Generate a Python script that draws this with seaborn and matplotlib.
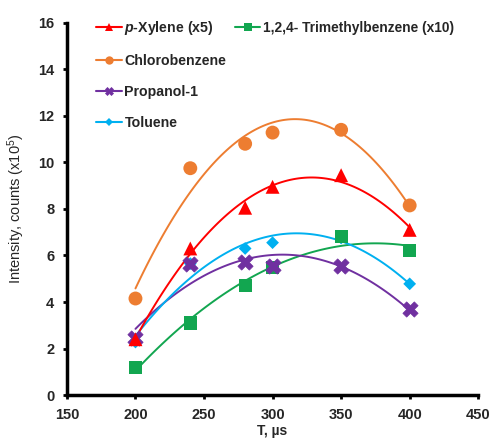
import numpy as np
import pandas as pd
import matplotlib
matplotlib.use("Agg")
import matplotlib.pyplot as plt
import seaborn as sns
from matplotlib.lines import Line2D

sns.set_theme(style="ticks")
plt.rcParams['font.family'] = ['Liberation Sans', 'DejaVu Sans']
plt.rcParams['mathtext.fontset'] = 'custom'
plt.rcParams['mathtext.it'] = 'Liberation Sans:italic:bold'
plt.rcParams['mathtext.rm'] = 'Liberation Sans'

T = [200, 240, 280, 300, 350, 400]
p_xylene = [2.4, 6.3, 8.05, 8.95, 9.45, 7.1]
trimethylbenzene = [1.2, 3.1, 4.72, 5.5, 6.82, 6.22]
chlorobenzene = [4.15, 9.75, 10.8, 11.28, 11.4, 8.15]
propanol = [2.45, 5.64, 5.73, 5.55, 5.55, 3.72]
toluene = [2.28, 5.65, 6.3, 6.55, 6.75, 4.78]

series = [
    ("$p$-Xylene (x5)", p_xylene, "#FF0000", "^", 10),
    ("1,2,4- Trimethylbenzene (x10)", trimethylbenzene, "#12A650", "s", 9.5),
    ("Chlorobenzene", chlorobenzene, "#ED7D31", "o", 10),
    ("Propanol-1", propanol, "#7030A0", "X", 11),
    ("Toluene", toluene, "#00B0F0", "D", 6.5),
]
line_order = [1, 3, 4, 0, 2]
marker_order = [4, 1, 3, 0, 2]

fig = plt.figure(figsize=(4.92, 4.38), dpi=100)
ax = fig.add_axes([0.136, 0.098, 0.836, 0.85])

for i in line_order:
    name, vals, color, marker, ms = series[i]
    df = pd.DataFrame({"T": T, "v": vals})
    sns.regplot(data=df, x="T", y="v", order=2, ci=None, scatter=False,
                truncate=True, ax=ax, line_kws=dict(color=color, lw=1.4))
for i in marker_order:
    name, vals, color, marker, ms = series[i]
    df = pd.DataFrame({"T": T, "v": vals})
    sns.scatterplot(data=df, x="T", y="v", marker=marker, s=ms**2, color=color,
                    edgecolor="none" if marker != "X" else color, linewidth=0 if marker != "X" else 0.5,
                    ax=ax, zorder=3)

ax.set_xlim(150, 450)
ax.set_ylim(0, 16)
ax.set_xticks(np.arange(150, 451, 50))
ax.set_yticks(np.arange(0, 17, 2))
for lab in ax.get_xticklabels() + ax.get_yticklabels():
    lab.set_fontweight("bold")
    lab.set_fontsize(10.5)
ax.tick_params(axis='both', direction='out', length=3, width=2, color='black', pad=6)
for s in ["top", "right"]:
    ax.spines[s].set_visible(False)
for s in ["left", "bottom"]:
    ax.spines[s].set_linewidth(2.5)
    ax.spines[s].set_color("black")
ax.set_xlabel("T, µs", fontsize=10, fontweight="bold", labelpad=2)
ax.set_ylabel("Intensity, counts (x10$^5$)", fontsize=10.5, labelpad=8)

def h(i):
    name, vals, color, marker, ms = series[i]
    return Line2D([0], [0], color=color, lw=1.5, marker=marker, markersize=6 if marker != "D" else 4,
                  markeredgewidth=0.5 if marker == "X" else 0)

blank = Line2D([0], [0], color="none", lw=0)
handles = [h(0), h(2), h(3), h(4), h(1), blank, blank, blank]
labels = [series[0][0], series[2][0], series[3][0], series[4][0], series[1][0], "", "", ""]
leg = ax.legend(handles, labels, ncol=2, frameon=False, loc="upper left",
                bbox_to_anchor=(0.04, 1.045), handlelength=1.8, handletextpad=0.2,
                labelspacing=1.2, columnspacing=0.6,
                prop=dict(weight="bold", size=10.2))
leg.get_texts()[4].set_fontsize(9.9)
fig.savefig("out.png", dpi=100)
